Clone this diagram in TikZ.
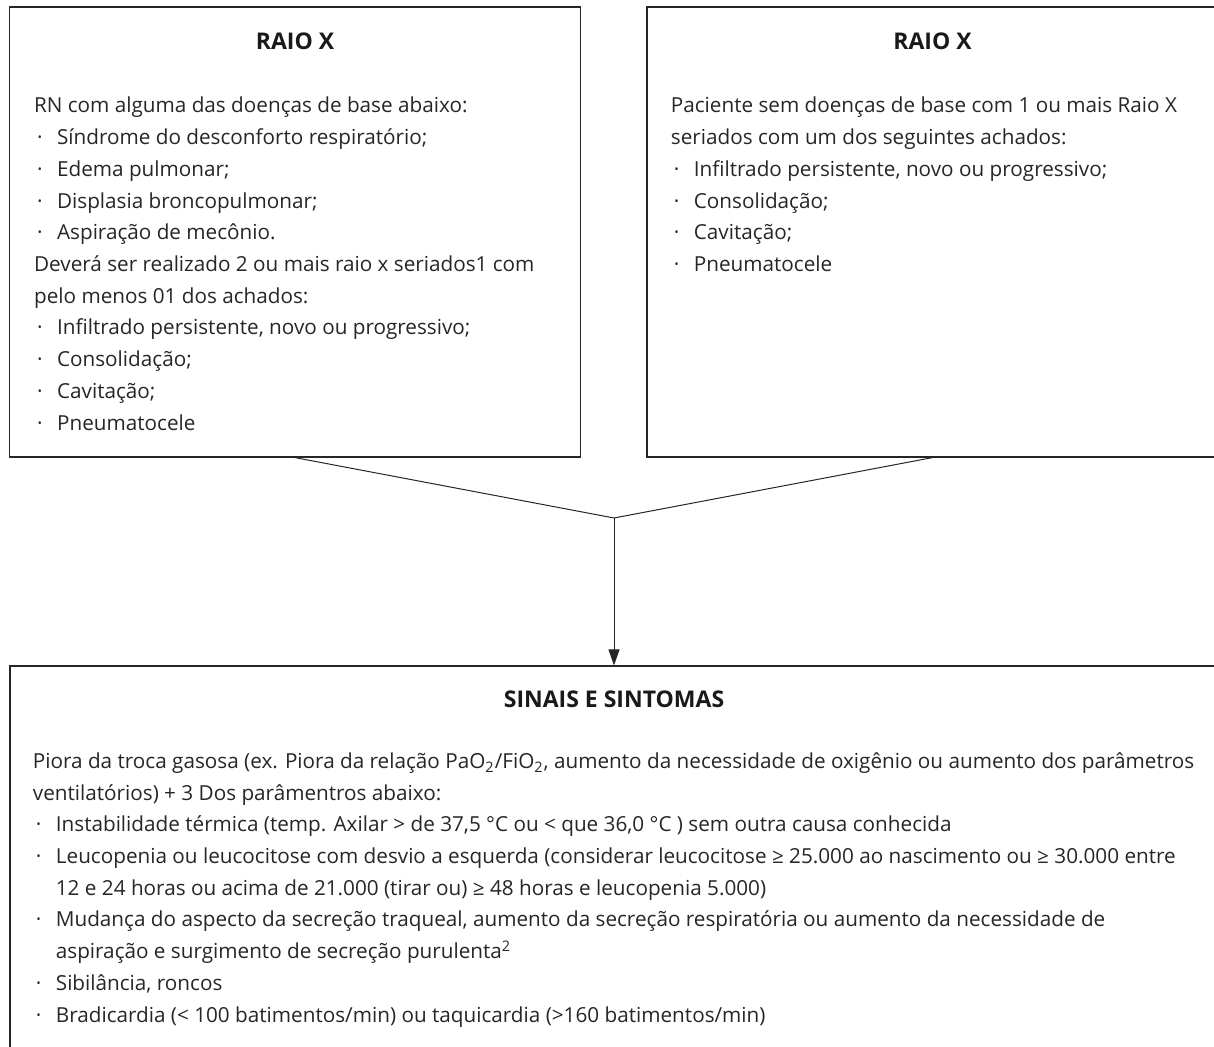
\documentclass[tikz,border=0pt]{standalone}
\usepackage{fontspec}
\setmainfont{Open Sans}
\usetikzlibrary{arrows.meta,positioning}

\newcommand{\itm}{\makebox[11.5pt][l]{\hspace{1.5pt}·}}
\newcommand{\cont}{\hspace*{11.5pt}}

\begin{document}
\begin{tikzpicture}[x=0.5pt, y=-0.5pt,
  panel/.style={rectangle, draw=black!85, line width=0.6pt,
                minimum width=285.5pt, minimum height=225pt, inner sep=0pt},
  ttl/.style={font=\fontsize{11.5}{14}\selectfont\bfseries, text=black!90,
              inner sep=0pt, anchor=base},
  body/.style={font=\fontsize{10.35}{15.85}\selectfont, text=black!85,
               align=left, inner sep=0pt, anchor=base west},
  link/.style={line width=0.5pt, black!85},
  arr/.style={-{Triangle[length=8pt,width=5.5pt]}, line width=0.5pt, black!85}
]
  \useasboundingbox (0,0) rectangle (1214,1047);
  \clip (0,0) rectangle (1214,1047);

  % Raio X boxes (body nodes sit on their last baseline)
  \node[panel] (xl) at (295,232) {};
  \node[panel] (xr) at (932.5,232) {};
  \node[ttl] (tl) at (295,50) {RAIO X};
  \node[ttl] (tr) at (932.5,50) {RAIO X};

  \node[body] (bl) at (33.7,430) {RN com alguma das doenças de base abaixo:\\
    \itm Síndrome do desconforto respiratório;\\
    \itm Edema pulmonar;\\
    \itm Displasia broncopulmonar;\\
    \itm Aspiração de mecônio.\\
    Deverá ser realizado 2 ou mais raio x seriados1 com\\
    pelo menos 01 dos achados:\\
    \itm Infiltrado persistente, novo ou progressivo;\\
    \itm Consolidação;\\
    \itm Cavitação;\\
    \itm Pneumatocele};

  \node[body] (br) at (670.5,271.5) {Paciente sem doenças de base com 1 ou mais Raio X\\
    seriados com um dos seguintes achados:\\
    \itm Infiltrado persistente, novo ou progressivo;\\
    \itm Consolidação;\\
    \itm Cavitação;\\
    \itm Pneumatocele};

  % Sinais e sintomas
  \node[panel, minimum width=615pt, minimum height=202pt] (sx) at (625,868) {};
  \node[ttl] (ts) at (614,707) {SINAIS E SINTOMAS};
  \node[body] (bs) at (32.5,1022) {Piora da troca gasosa (ex. Piora da relação PaO\textsubscript{2}/FiO\textsubscript{2}, aumento da necessidade de oxigênio ou aumento dos parâmetros\\
    ventilatórios) + 3 Dos parâmentros abaixo:\\
    \itm Instabilidade térmica (temp. Axilar > de 37,5 °C ou < que 36,0 °C ) sem outra causa conhecida\\
    \itm Leucopenia ou leucocitose com desvio a esquerda (considerar leucocitose ≥ 25.000 ao nascimento ou ≥ 30.000 entre\\
    \cont 12 e 24 horas ou acima de 21.000 (tirar ou) ≥ 48 horas e leucopenia 5.000)\\
    \itm Mudança do aspecto da secreção traqueal, aumento da secreção respiratória ou aumento da necessidade de\\
    \cont aspiração e surgimento de secreção purulenta\textsuperscript{2}\\
    \itm Sibilância, roncos\\
    \itm Bradicardia (< 100 batimentos/min) ou taquicardia (>160 batimentos/min)};

  % Connectors
  \coordinate (j) at (614,518);
  \draw[link] (xl.south) -- (j);
  \draw[link] (xr.south) -- (j);
  \draw[arr] (j) -- (j |- sx.north);
\end{tikzpicture}
\end{document}
